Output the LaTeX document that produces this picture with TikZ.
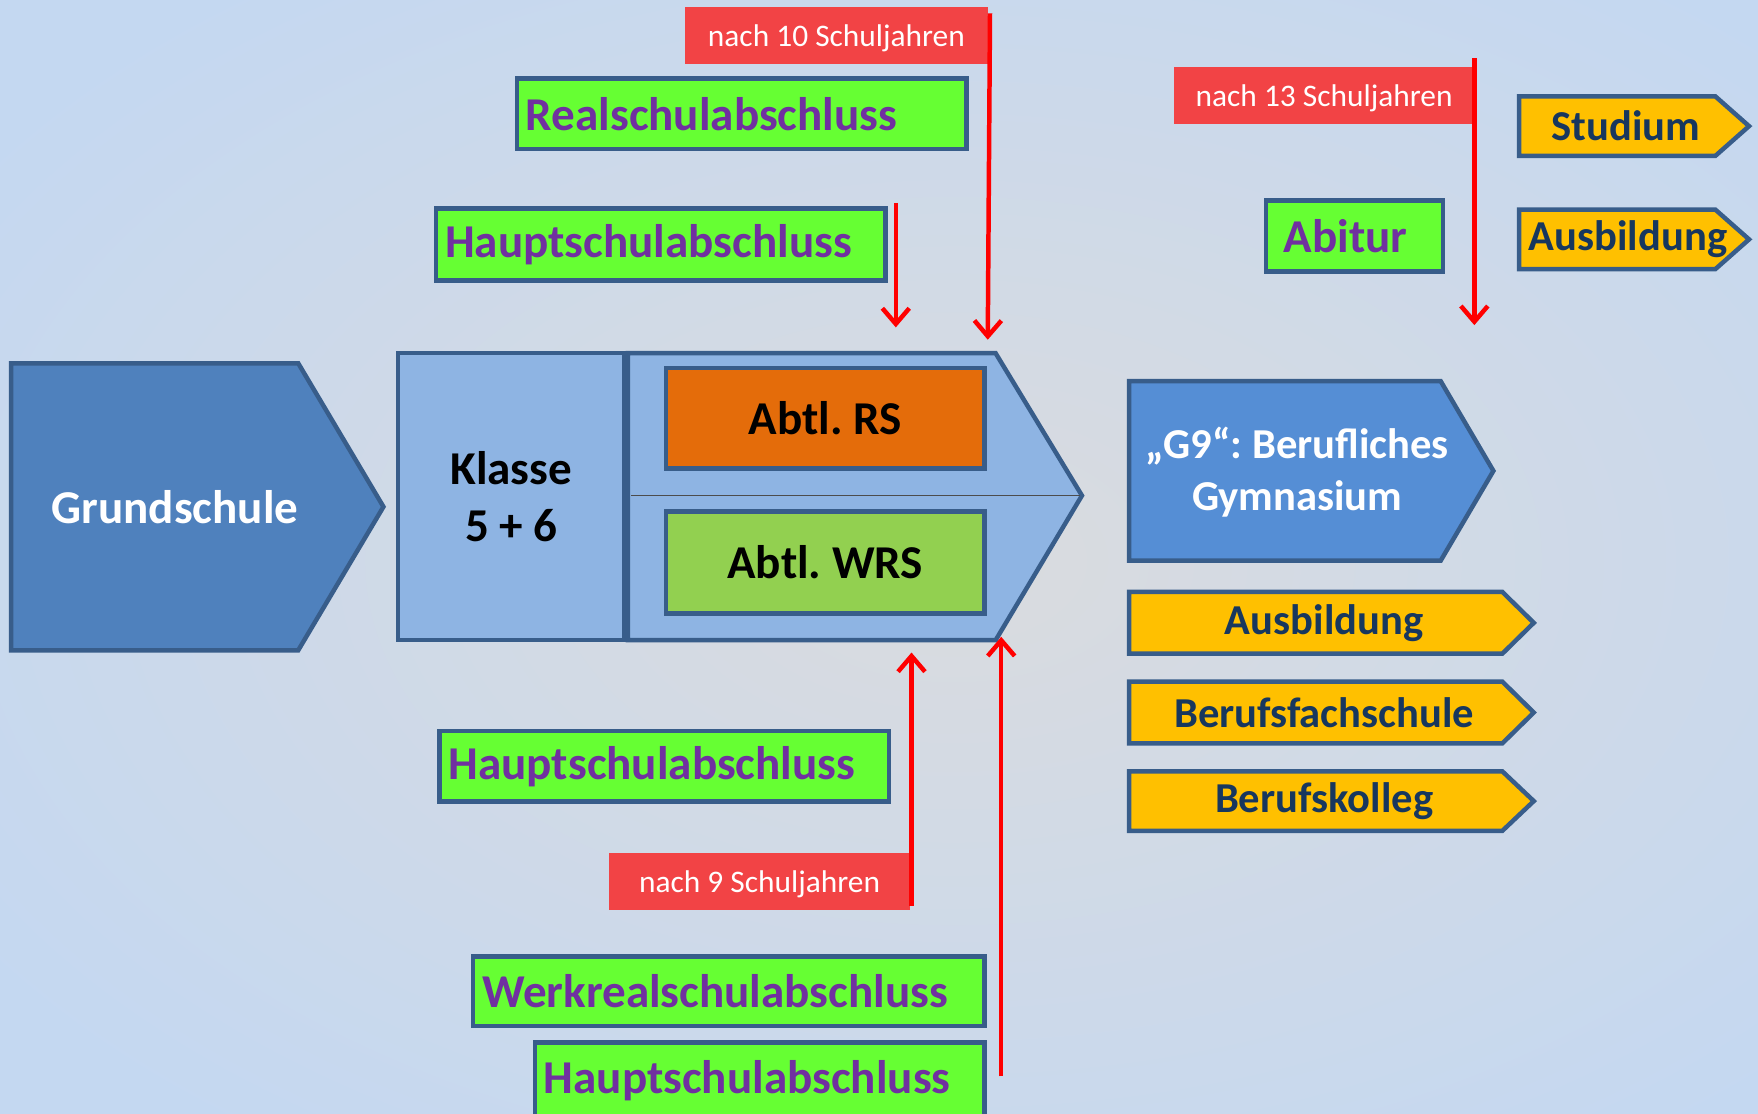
\documentclass[tikz,border=0pt]{standalone}
\usepackage{fontspec}
\setmainfont{Carlito}
\usetikzlibrary{arrows.meta}
\definecolor{bgin}{RGB}{218,219,222}
\definecolor{bgout}{RGB}{196,216,241}
\definecolor{bord}{RGB}{56,93,138}
\definecolor{gsblue}{RGB}{79,129,189}
\definecolor{lblue}{RGB}{142,180,227}
\definecolor{gblue}{RGB}{85,142,213}
\definecolor{orng}{RGB}{228,108,10}
\definecolor{lgreen}{RGB}{146,208,80}
\definecolor{bgreen}{RGB}{102,255,51}
\definecolor{purp}{RGB}{112,48,160}
\definecolor{gold}{RGB}{255,192,0}
\definecolor{navy}{RGB}{23,55,94}
\definecolor{lred}{RGB}{242,67,69}
\tikzset{
 shapeline/.style={draw=bord, line width=4pt},
 bigtext/.style={font=\bfseries\fontsize{42}{51}\selectfont, align=center},
 goldtext/.style={font=\bfseries\fontsize{38}{46}\selectfont, text=navy},
 greenbox/.style={shapeline, fill=bgreen, text=purp, font=\bfseries\fontsize{42}{50}\selectfont, inner xsep=8pt, inner ysep=0pt, outer sep=0pt, align=left, anchor=north west},
 redlabel/.style={fill=lred, text=white, font=\fontsize{28}{34}\selectfont, minimum width=269pt, minimum height=51pt, inner sep=0pt, text depth=0pt},
 redarrow/.style={draw=red, line width=4pt, -{Straight Barb[length=14pt,width=24pt]}},
}
\frenchspacing
\begin{document}
\begin{tikzpicture}[x=1pt,y=-1pt]
\useasboundingbox (0,0) rectangle (1568,993);
\clip (0,0) rectangle (1568,993);
\shade[inner color=bgin, outer color=bgout] (-200,-150) rectangle (1900,1150);

% Grundschule
\draw[shapeline, fill=gsblue] (10,324) -- (266,324) -- (342,452) -- (266,580) -- (10,580) -- cycle;
\node[bigtext, text=white] (gs) at (156,452) {Grundschule};

% Klasse 5+6
\draw[shapeline, fill=lblue] (355,315) rectangle (557,571);
\node[bigtext] (kl) at (456,443) {Klasse\\5 + 6};

% Abteilungen
\draw[shapeline, fill=lblue] (560,315) -- (888,315) -- (965,442) -- (888,571) -- (560,571) -- cycle;
\draw[draw=black!70, line width=1.5pt] (563,442) -- (963,442);
\node[shapeline, fill=orng, minimum width=284pt, minimum height=90pt, inner sep=0pt, bigtext] (rs) at (736,373) {Abtl. RS};
\node[shapeline, fill=lgreen, minimum width=284pt, minimum height=91pt, inner sep=0pt, bigtext] (wrs) at (736,501.5) {Abtl. WRS};

% G9
\draw[shapeline, fill=gblue] (1007,340) -- (1285,340) -- (1332,420) -- (1285,500) -- (1007,500) -- cycle;
\node[font=\bfseries\fontsize{38}{46}\selectfont, text=white, align=center] (g9) at (1157,421) {„G9“: Berufliches\\Gymnasium};

% gold arrows
\draw[shapeline, fill=gold] (1007,528) -- (1340,528) -- (1368,555.5) -- (1340,583) -- (1007,583) -- cycle;
\node[goldtext] (aus1) at (1181,555.5) {Ausbildung};
\draw[shapeline, fill=gold] (1007,608) -- (1340,608) -- (1368,635.5) -- (1340,663) -- (1007,663) -- cycle;
\node[goldtext] (bfs) at (1181,635.5) {Berufsfachschule};
\draw[shapeline, fill=gold] (1007,688) -- (1340,688) -- (1368,714.5) -- (1340,741) -- (1007,741) -- cycle;
\node[goldtext] (bk) at (1181,714.5) {Berufskolleg};
\draw[shapeline, fill=gold] (1355,86) -- (1530,86) -- (1560,112.5) -- (1530,139) -- (1355,139) -- cycle;
\node[goldtext] (stu) at (1450,112.5) {Studium};
\draw[shapeline, fill=gold] (1355,187) -- (1530,187) -- (1560,213.5) -- (1530,240) -- (1355,240) -- cycle;
\node[goldtext] (aus2) at (1452,213.5) {Ausbildung};

% green boxes
\node[greenbox, text width=385pt, minimum height=63pt] (real) at (461,70) {Realschulabschluss};
\node[greenbox, text width=385pt, minimum height=64pt] (hs1) at (389,186) {Hauptschulabschluss};
\node[greenbox, text width=385pt, minimum height=63pt] (hs2) at (392,652) {Hauptschulabschluss};
\node[greenbox, text width=440pt, minimum height=62pt] (wrk) at (422,853) {Werkrealschulabschluss};
\node[greenbox, text width=385pt, minimum height=68pt] (hs3) at (477,930) {Hauptschulabschluss};
\node[greenbox, inner xsep=16pt, text width=126pt, minimum height=63pt] (abi) at (1129,179) {Abitur};

% red labels
\node[redlabel, minimum width=270pt] (n10) at (746,31.5) {nach 10 Schuljahren};
\node[redlabel, minimum width=268pt] (n13) at (1181,85.5) {nach 13 Schuljahren};
\node[redlabel] (n9) at (677.5,786.5) {nach 9 Schuljahren};

% red arrows
\coordinate (a1s) at (799,181); \coordinate (a1e) at (799,292);
\coordinate (a2s) at (883,12);  \coordinate (a2e) at (881,303);
\coordinate (a3s) at (1315,52); \coordinate (a3e) at (1315,290);
\coordinate (a4s) at (813,808); \coordinate (a4e) at (813,582);
\coordinate (a5s) at (893,960); \coordinate (a5e) at (893,568);
\draw[redarrow] (a1s) -- (a1e);
\draw[redarrow] (a2s) -- (a2e);
\draw[redarrow] (a3s) -- (a3e);
\draw[redarrow] (a4s) -- (a4e);
\draw[redarrow] (a5s) -- (a5e);
\end{tikzpicture}
\end{document}
